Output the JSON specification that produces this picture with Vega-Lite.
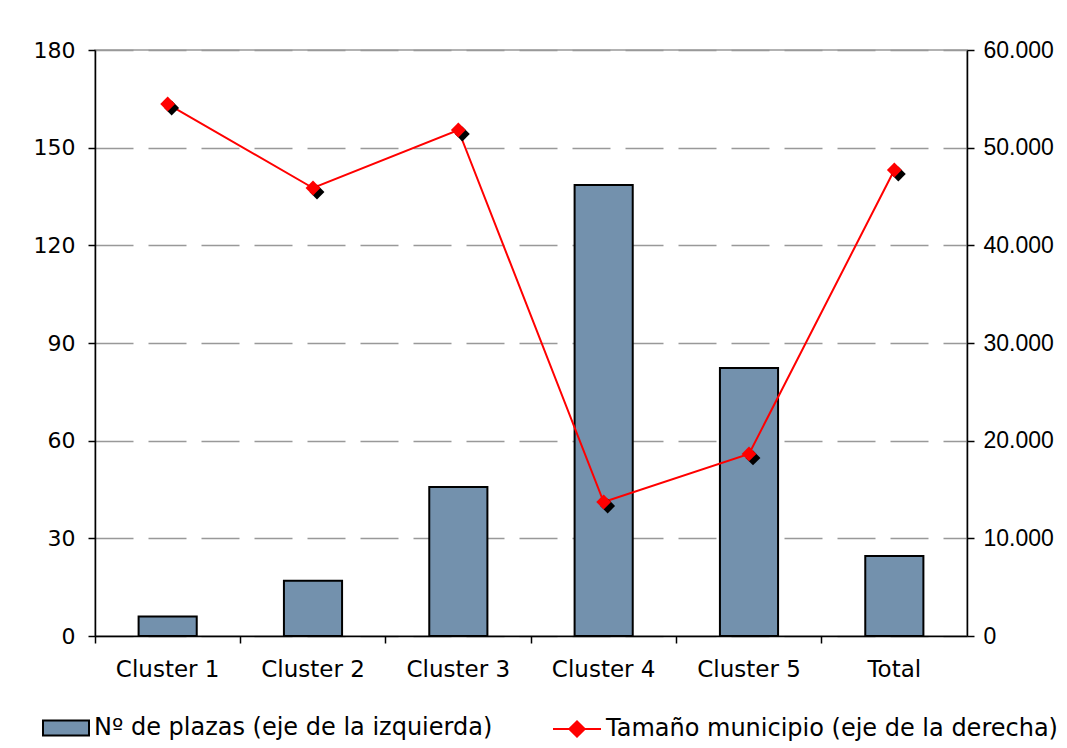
{
  "$schema": "https://vega.github.io/schema/vega-lite/v6.json",
  "autosize": "none",
  "width": 872,
  "height": 586,
  "padding": {"left": 95, "top": 50, "right": 100, "bottom": 112},
  "background": "white",
  "config": {
    "view": {"stroke": "#999999", "strokeWidth": 1.5},
    "font": "DejaVu Sans"
  },
  "data": {
    "values": [
      {"cat": "Cluster 1", "plazas": 6, "tamano": 54470},
      {"cat": "Cluster 2", "plazas": 17, "tamano": 45870},
      {"cat": "Cluster 3", "plazas": 45.8, "tamano": 51810},
      {"cat": "Cluster 4", "plazas": 138.5, "tamano": 13720},
      {"cat": "Cluster 5", "plazas": 82.3, "tamano": 18640},
      {"cat": "Total", "plazas": 24.6, "tamano": 47710}
    ]
  },
  "encoding": {
    "x": {
      "field": "cat",
      "type": "nominal",
      "sort": null,
      "scale": {"paddingInner": 0, "paddingOuter": 0},
      "axis": {
        "title": null,
        "labelAngle": 0,
        "bandPosition": 0,
        "domainColor": "black",
        "domainWidth": 1.5,
        "tickColor": "black",
        "tickWidth": 1.5,
        "tickSize": 7,
        "labelFontSize": 23,
        "labelColor": "black",
        "labelPadding": 15,
        "labelFont": "DejaVu Sans"
      }
    }
  },
  "layer": [
    {
      "mark": {"type": "bar", "stroke": "black", "strokeWidth": 2, "width": {"band": 0.4}},
      "encoding": {
        "y": {
          "field": "plazas",
          "type": "quantitative",
          "scale": {"domain": [0, 180], "nice": false},
          "axis": {
            "title": null,
            "orient": "left",
            "values": [0, 30, 60, 90, 120, 150, 180],
            "domainColor": "black",
            "domainWidth": 1.5,
            "tickColor": "black",
            "tickWidth": 1.5,
            "tickSize": 7,
            "labelFontSize": 22,
            "labelColor": "black",
            "labelPadding": 13,
            "labelFont": "DejaVu Sans",
            "grid": true,
            "gridColor": "#999999",
            "gridWidth": 1.5,
            "gridDash": [38, 15]
          }
        },
        "fill": {
          "datum": "Nº de plazas (eje de la izquierda)",
          "scale": {"range": ["#7391AD"]},
          "legend": {
            "title": null,
            "orient": "none",
            "legendX": -53,
            "legendY": 654,
            "symbolType": "M-1,-0.33H1V0.33H-1Z",
            "symbolSize": 2116,
            "symbolStrokeColor": "black",
            "symbolStrokeWidth": 2,
            "symbolOpacity": 1,
            "labelFontSize": 24,
            "labelFont": "DejaVu Sans",
            "labelColor": "black",
            "labelLimit": 600,
            "labelOffset": 4
          }
        }
      }
    },
    {
      "encoding": {
        "y": {
          "field": "tamano",
          "type": "quantitative",
          "scale": {"domain": [0, 60000], "nice": false},
          "axis": {
            "title": null,
            "orient": "right",
            "values": [0, 10000, 20000, 30000, 40000, 50000, 60000],
            "labelExpr": "replace(format(datum.value, ','), ',', '.')",
            "domainColor": "black",
            "domainWidth": 1.5,
            "tickColor": "black",
            "tickWidth": 1.5,
            "tickSize": 7,
            "labelFontSize": 23,
            "labelColor": "black",
            "labelPadding": 9,
            "labelFont": "Liberation Sans",
            "grid": false
          }
        }
      },
      "layer": [
        {
          "mark": {"type": "line", "strokeWidth": 2},
          "encoding": {
            "stroke": {
              "datum": "Tamaño municipio (eje de la derecha)",
              "scale": {"range": ["#FF0000"]},
              "legend": {
                "title": null,
                "orient": "none",
                "legendX": 457,
                "legendY": 654,
                "symbolType": "M-1,0H1M-0.32,0L0,-0.32L0.32,0L0,0.32Z",
                "symbolSize": 2304,
                "symbolStrokeWidth": 2,
                "labelFontSize": 24,
                "labelFont": "DejaVu Sans",
                "labelColor": "black",
                "labelLimit": 600,
                "labelOffset": 4,
                "encode": {"symbols": {"update": {"fill": {"value": "#FF0000"}, "stroke": {"value": "#FF0000"}, "opacity": {"value": 1}}}}
              }
            }
          }
        },
        {
          "mark": {"type": "point", "shape": "diamond", "filled": true, "color": "black", "size": 220, "opacity": 1, "xOffset": 4, "yOffset": 4}
        },
        {
          "mark": {"type": "point", "shape": "diamond", "filled": true, "color": "#FF0000", "size": 220, "opacity": 1}
        }
      ]
    }
  ],
  "resolve": {"scale": {"y": "independent"}}
}
